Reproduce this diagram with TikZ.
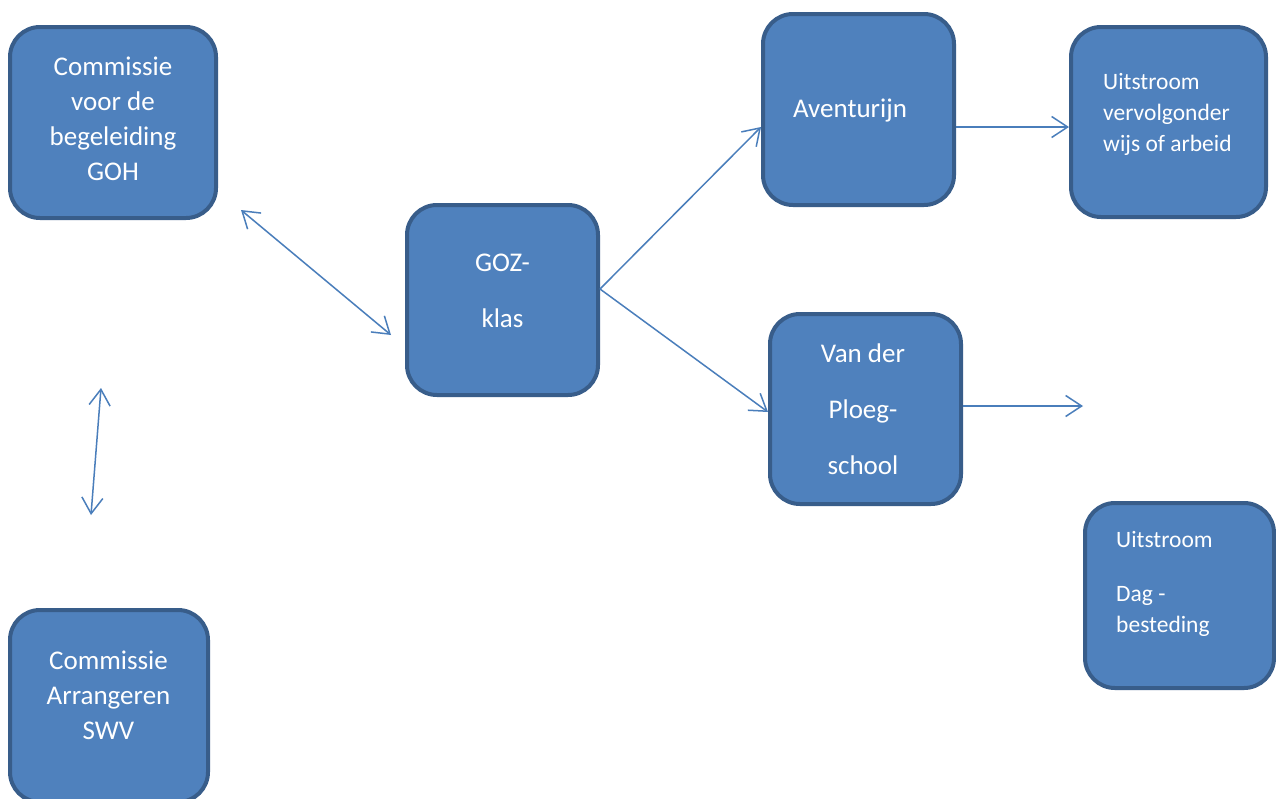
\documentclass[tikz,border=0pt]{standalone}
\usepackage{fontspec}
\setmainfont{Carlito}
\usetikzlibrary{arrows.meta}
\definecolor{boxfill}{HTML}{4F81BD}
\definecolor{boxline}{HTML}{385D8A}
\definecolor{arrowcol}{HTML}{4A7EBB}
\tikzset{
  box/.style={draw=boxline, fill=boxfill, line width=4pt, rounded corners=30pt, rectangle, inner sep=0pt},
  bigtxt/.style={text=white, inner sep=0pt, align=center, font=\fontsize{27}{35}\selectfont},
  smalltxt/.style={text=white, inner sep=0pt, align=left, anchor=west, font=\fontsize{23.5}{31}\selectfont},
  barb/.tip={Straight Barb[length=16pt,width=21pt,line width=1.5pt]},
  arr/.style={draw=arrowcol, line width=1.5pt, -barb},
  darr/.style={draw=arrowcol, line width=1.5pt, barb-barb}
}
\begin{document}
\begin{tikzpicture}[x=1pt,y=-1pt]
\useasboundingbox (0,0) rectangle (1276,798);
\clip (0,0) rectangle (1276,798);
\fill[white] (0,0) rectangle (1276,798);
% boxes
\node[box, minimum width=206pt, minimum height=191pt] (goh) at (113,122.5) {};
\node[box, minimum width=191pt, minimum height=190pt] (goz) at (502.5,300) {};
\node[box, minimum width=191pt, minimum height=191pt] (ave) at (858.5,109.5) {};
\node[box, minimum width=195pt, minimum height=190pt] (uv) at (1168.5,122) {};
\node[box, minimum width=191pt, minimum height=190pt] (vdp) at (865.5,409) {};
\node[box, minimum width=189pt, minimum height=185pt] (dag) at (1179.5,595.5) {};
\node[box, minimum width=198pt, minimum height=192pt] (arr) at (109,706) {};
% texts
\node[bigtxt] (gohT) at (113,119) {Commissie\\voor de\\begeleiding\\GOH};
\node[bigtxt] (gozT) at (502.5,291) {GOZ-\\[21pt]klas};
\node[bigtxt] (aveT) at (850,111) {Aventurijn};
\node[bigtxt] (vdpT) at (863,409) {Van der\\[21pt]Ploeg-\\[21pt]school};
\node[smalltxt] (uvT) at (1103,114) {Uitstroom\\vervolgonder\\wijs of arbeid};
\node[smalltxt] (dagT) at (1116,584) {Uitstroom\\[23pt]Dag -\\besteding};
\node[bigtxt] (arrT) at (108.5,695.5) {Commissie\\Arrangeren\\SWV};
% connector end points
\coordinate (d1a) at (241,210);
\coordinate (d1b) at (391,335);
\coordinate (d2a) at (101,388);
\coordinate (d2b) at (91,515);
\coordinate (gozOut) at (600,289);
\coordinate (aveIn) at (761,127);
\coordinate (vdpIn) at (768,412);
\coordinate (aveOut) at (956,127);
\coordinate (uvIn) at (1069,127);
\coordinate (vdpOut) at (963,406);
\coordinate (free) at (1083,406);
% connectors
\draw[darr] (d1a) -- (d1b);
\draw[darr] (d2a) -- (d2b);
\draw[arr] (gozOut) -- (aveIn);
\draw[arr] (gozOut) -- (vdpIn);
\draw[arr] (aveOut) -- (uvIn);
\draw[arr] (vdpOut) -- (free);
\end{tikzpicture}
\end{document}
